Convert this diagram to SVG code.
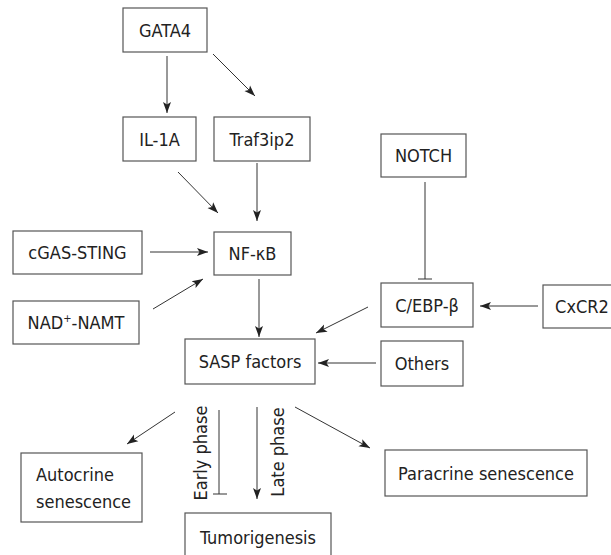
<svg xmlns="http://www.w3.org/2000/svg" width="611" height="555" viewBox="0 0 611 555">
<defs>
<marker id="arr" markerUnits="userSpaceOnUse" markerWidth="12" markerHeight="10" refX="11" refY="5" orient="auto">
<path d="M0,1 L11,5 L0,9 L2.5,5 z" fill="#222"/>
</marker>
<style>
.box{fill:#fff;stroke:#555;stroke-width:1.2}
.t{font-family:"DejaVu Sans Condensed","DejaVu Sans",sans-serif;font-stretch:condensed;font-size:18px;fill:#222;text-anchor:middle}
.l{fill:none;stroke:#333;stroke-width:1}
.a{marker-end:url(#arr)}
</style>
</defs>
<rect width="611" height="555" fill="#fff"/>
<g id="connectors">
<line class="l a" x1="167" y1="56" x2="167" y2="113"/>
<line class="l a" x1="213" y1="54" x2="255" y2="96"/>
<line class="l a" x1="178" y1="172" x2="218" y2="213"/>
<line class="l a" x1="257" y1="163" x2="257" y2="221"/>
<line class="l a" x1="150" y1="252" x2="208" y2="252"/>
<line class="l a" x1="153" y1="309" x2="203" y2="279"/>
<line class="l a" x1="259" y1="279" x2="259" y2="337"/>
<line class="l" x1="425" y1="182" x2="425" y2="279"/>
<line class="l" x1="418" y1="279" x2="432" y2="279"/>
<line class="l a" x1="538" y1="306" x2="480" y2="306"/>
<line class="l a" x1="368" y1="307" x2="316" y2="333"/>
<line class="l a" x1="376" y1="363" x2="318" y2="363"/>
<line class="l a" x1="175" y1="412" x2="127" y2="444"/>
<line class="l" x1="219" y1="410" x2="219" y2="494"/>
<line class="l" x1="213" y1="494" x2="227" y2="494"/>
<line class="l a" x1="257" y1="407" x2="257" y2="499"/>
<line class="l a" x1="295" y1="407" x2="370" y2="448"/>
<text class="t" transform="translate(206.5,453) rotate(-90)">Early phase</text>
<text class="t" transform="translate(283.5,452) rotate(-90)">Late phase</text>
</g>
<g id="gata4"><rect class="box" x="123" y="8" width="84" height="44"/><text class="t" x="165" y="36.5">GATA4</text></g>
<g id="il1a"><rect class="box" x="123" y="117" width="73" height="44"/><text class="t" x="159.5" y="145.5">IL-1A</text></g>
<g id="traf3ip2"><rect class="box" x="214" y="117" width="96" height="44"/><text class="t" x="262" y="145.5">Traf3ip2</text></g>
<g id="nfkb"><rect class="box" x="214" y="232" width="77" height="43"/><text class="t" x="252.5" y="260">NF-κB</text></g>
<g id="cgas"><rect class="box" x="13" y="231" width="129" height="43"/><text class="t" x="77.5" y="259">cGAS-STING</text></g>
<g id="nad"><rect class="box" x="13" y="301" width="126" height="43"/><text class="t" x="76" y="329">NAD<tspan font-size="11" dy="-7">+</tspan><tspan dy="7">-NAMT</tspan></text></g>
<g id="sasp"><rect class="box" x="185" y="339" width="130" height="45"/><text class="t" x="250" y="368">SASP factors</text></g>
<g id="notch"><rect class="box" x="381" y="134" width="85" height="43"/><text class="t" x="423.5" y="162">NOTCH</text></g>
<g id="cebp"><rect class="box" x="381" y="283" width="92" height="44"/><text class="t" x="427" y="311.5">C/EBP-β</text></g>
<g id="cxcr2"><rect class="box" x="543" y="285" width="80" height="43"/><text class="t" x="582" y="313">CxCR2</text></g>
<g id="others"><rect class="box" x="381" y="341" width="82" height="45"/><text class="t" x="422" y="370">Others</text></g>
<g id="autocrine"><rect class="box" x="21" y="453" width="121" height="69"/><text class="t" x="36" y="481" style="text-anchor:start">Autocrine</text><text class="t" x="36" y="508" style="text-anchor:start">senescence</text></g>
<g id="tumorigenesis"><rect class="box" x="185" y="513" width="146" height="60"/><text class="t" x="258" y="544">Tumorigenesis</text></g>
<g id="paracrine"><rect class="box" x="385" y="450" width="202" height="46"/><text class="t" x="486" y="479.5">Paracrine senescence</text></g>
</svg>
